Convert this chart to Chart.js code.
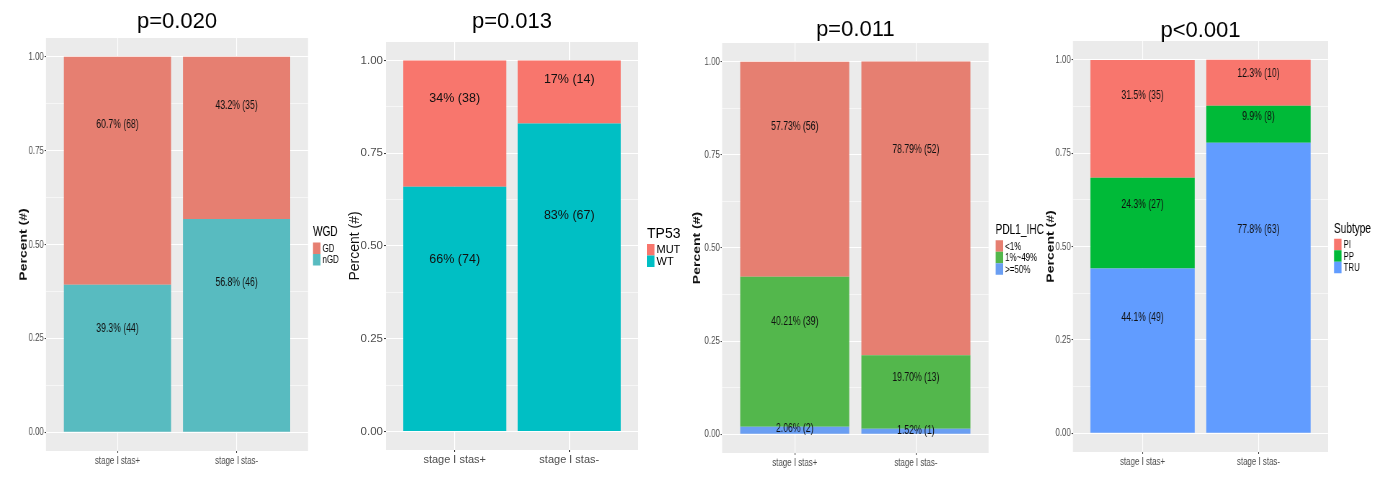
<!DOCTYPE html>
<html>
<head>
<meta charset="utf-8">
<script src="https://cdn.jsdelivr.net/npm/chart.js@4.4.1/dist/chart.umd.min.js"></script>
<style>
    html, body { margin: 0; padding: 0; background: #fff; }
    body { width: 1377px; height: 480px; position: relative; overflow: hidden; }
    .panel { position: absolute; top: 0; height: 480px; transform-origin: 0 0; }
</style>
</head>
<body>
<script>
const categories = ['stage Ⅰ stas+', 'stage Ⅰ stas-'];
const yTicks = [0, 0.25, 0.5, 0.75, 1];
const yTickLabels = ['0.00', '0.25', '0.50', '0.75', '1.00'];

// WGD
const wgdTitle = 'p=0.020';
const wgdLevels = ['GD', 'nGD'];
const wgdColors = ['#E67F71', '#58BBC0'];
const wgdPct = [[60.7, 43.2], [39.3, 56.8]];
const wgdCount = [[68, 35], [44, 46]];

// TP53
const tp53Title = 'p=0.013';
const tp53Levels = ['MUT', 'WT'];
const tp53Colors = ['#F8766D', '#00BFC4'];
const tp53Pct = [[34, 17], [66, 83]];
const tp53Count = [[38, 14], [74, 67]];

// PDL1_IHC
const pdl1Title = 'p=0.011';
const pdl1Levels = ['<1%', '1%~49%', '>=50%'];
const pdl1Colors = ['#E67F71', '#53B74C', '#6A9EF2'];
const pdl1Pct = [[57.73, 78.79], [40.21, 19.70], [2.06, 1.52]];
const pdl1Count = [[56, 52], [39, 13], [2, 1]];

// Subtype
const subTitle = 'p<0.001';
const subLevels = ['PI', 'PP', 'TRU'];
const subColors = ['#F8766D', '#00BA38', '#619CFF'];
const subPct = [[31.5, 12.3], [24.3, 9.9], [44.1, 77.8]];
const subCount = [[35, 10], [27, 8], [49, 63]];

const SANS = "'Liberation Sans', Arial, sans-serif";

const panels = [
    { title: wgdTitle, legend: 'WGD', levels: wgdLevels, colors: wgdColors, pct: wgdPct, count: wgdCount, digits: 1,
      cx: 0, cw: 345, sx: 0.72, area: [46, 38, 308, 451], titleY: 22, yTitleX: 24, legendX: 313, yBold: true },
    { title: tp53Title, legend: 'TP53', levels: tp53Levels, colors: tp53Colors, pct: tp53Pct, count: tp53Count, digits: 0,
      cx: 345, cw: 345, sx: 1, area: [386, 42, 638, 450], titleY: 22, yTitleX: 355, legendX: 647, yBold: false },
    { title: pdl1Title, legend: 'PDL1_IHC', levels: pdl1Levels, colors: pdl1Colors, pct: pdl1Pct, count: pdl1Count, digits: 2,
      cx: 690, cw: 365, sx: 0.72, area: [722, 43, 988, 453], titleY: 30, yTitleX: 697, legendX: 995, yBold: true },
    { title: subTitle, legend: 'Subtype', levels: subLevels, colors: subColors, pct: subPct, count: subCount, digits: 1,
      cx: 1035, cw: 342, sx: 0.72, area: [1073, 41, 1328, 452], titleY: 31, yTitleX: 1051, legendX: 1334, yBold: true },
];

// major + minor grid positions
const gridValues = [];
yTicks.forEach((v, i) => {
    gridValues.push(v);
    if (i < yTicks.length - 1) gridValues.push((v + yTicks[i + 1]) / 2);
});
const isMajor = v => yTicks.indexOf(v) >= 0;

panels.forEach(makeChart);

function makeChart(p) {
    const sx = p.sx;
    const toX = v => (v - p.cx) / sx;
    const width = p.cw / sx;
    const left = toX(p.area[0]);
    const right = toX(p.area[2]);
    const top = p.area[1];
    const bottom = p.area[3];
    const yTitleSize = 14;
    const padLeft = toX(p.yTitleX) - (yTitleSize * 1.2) / 2;
    const xAxisH = 20;

    const wrap = document.createElement('div');
    wrap.className = 'panel';
    wrap.style.left = p.cx + 'px';
    wrap.style.width = width + 'px';
    wrap.style.transform = 'scaleX(' + sx + ')';
    const canvas = document.createElement('canvas');
    wrap.appendChild(canvas);
    document.body.appendChild(wrap);

    // first level sits on top of the stack, so push datasets bottom-first
    const datasets = [];
    for (let i = p.levels.length - 1; i >= 0; i--) {
        datasets.push({
            label: p.levels[i],
            data: p.pct[i].map((v, j) => ({ x: j + 1, y: v / 100 })),
            texts: p.pct[i].map((v, j) => v.toFixed(p.digits) + '% (' + p.count[i][j] + ')'),
            backgroundColor: p.colors[i],
            borderWidth: 0,
            barPercentage: 0.9,
            categoryPercentage: 1,
        });
    }

    const ggPlugin = {
        id: 'gg',
        beforeDraw(chart) {
            const { ctx, chartArea: a } = chart;
            ctx.save();
            ctx.fillStyle = '#EBEBEB';
            ctx.fillRect(a.left, a.top, a.right - a.left, a.bottom - a.top);
            ctx.restore();
        },
        afterDatasetsDraw(chart) {
            const { ctx, chartArea: a } = chart;
            ctx.save();

            // bar labels
            ctx.fillStyle = '#111';
            ctx.textAlign = 'center';
            ctx.textBaseline = 'middle';
            ctx.font = (sx < 1 ? '12px ' : '12.5px ') + SANS;
            chart.data.datasets.forEach((ds, i) => {
                chart.getDatasetMeta(i).data.forEach((el, j) => {
                    const y = el.base + (el.y - el.base) * 0.7;
                    ctx.fillText(ds.texts[j], el.x, y);
                });
            });

            // title, kept unsqueezed
            ctx.save();
            ctx.translate((a.left + a.right) / 2, p.titleY);
            ctx.scale(1 / sx, 1);
            ctx.fillStyle = '#000';
            ctx.font = '22px ' + SANS;
            ctx.fillText(p.title, 0, 0);
            ctx.restore();

            // legend
            const n = p.levels.length;
            const keyH = 11.5;
            const blockH = 17 + n * keyH;
            const lx = toX(p.legendX);
            const ly = (a.top + a.bottom) / 2 + 1 - blockH / 2;
            const keyW = 7.5 / sx;
            ctx.textAlign = 'left';
            ctx.fillStyle = '#000';
            ctx.font = '14px ' + SANS;
            ctx.fillText(p.legend, lx, ly + 7);
            ctx.font = '11px ' + SANS;
            p.levels.forEach((lab, k) => {
                const y0 = ly + 17 + k * keyH;
                ctx.fillStyle = p.colors[k];
                ctx.fillRect(lx, y0, keyW, keyH);
                ctx.fillStyle = '#000';
                ctx.fillText(lab, lx + keyW + 2 / sx, y0 + keyH / 2 + 0.5);
            });
            ctx.restore();
        },
    };

    new Chart(canvas, {
        type: 'bar',
        data: { datasets },
        plugins: [ggPlugin],
        options: {
            responsive: true,
            maintainAspectRatio: false,
            animation: false,
            layout: {
                padding: { left: padLeft, top: top, right: width - right, bottom: 480 - bottom - xAxisH },
            },
            plugins: {
                legend: { display: false },
                tooltip: { enabled: false },
            },
            scales: {
                x: {
                    type: 'linear',
                    min: 0.4,
                    max: 2.6,
                    offset: false,
                    stacked: true,
                    afterBuildTicks(scale) {
                        scale.ticks = categories.map((c, j) => ({ value: j + 1 }));
                    },
                    afterFit(scale) {
                        scale.height = xAxisH;
                    },
                    ticks: {
                        callback: v => categories[v - 1],
                        color: '#4D4D4D',
                        font: { family: SANS, size: 11 },
                        padding: 1,
                        maxRotation: 0,
                        autoSkip: false,
                    },
                    grid: { offset: false, color: '#FFFFFF', lineWidth: 1.1, tickColor: '#333333', tickLength: 2, tickWidth: 1 },
                    border: { display: false },
                },
                y: {
                    min: -0.05,
                    max: 1.05,
                    stacked: true,
                    afterBuildTicks(scale) {
                        scale.ticks = gridValues.map(v => ({ value: v }));
                    },
                    afterFit(scale) {
                        scale.width = left - padLeft;
                    },
                    ticks: {
                        callback: v => (isMajor(v) ? yTickLabels[yTicks.indexOf(v)] : ''),
                        color: '#4D4D4D',
                        font: { family: SANS, size: sx < 1 ? 11 : 11.5 },
                        padding: 1,
                        autoSkip: false,
                    },
                    grid: {
                        color: '#FFFFFF',
                        lineWidth: c => (isMajor(c.tick.value) ? 1.1 : 0.55),
                        tickColor: c => (isMajor(c.tick.value) ? '#333333' : 'rgba(0,0,0,0)'),
                        tickLength: 2,
                        tickWidth: 1,
                    },
                    border: { display: false },
                    title: {
                        display: true,
                        text: 'Percent (#)',
                        color: '#111',
                        padding: 0,
                        font: { family: SANS, size: yTitleSize, weight: p.yBold ? 'bold' : 'normal' },
                    },
                },
            },
        },
    });
}
</script>
</body>
</html>
